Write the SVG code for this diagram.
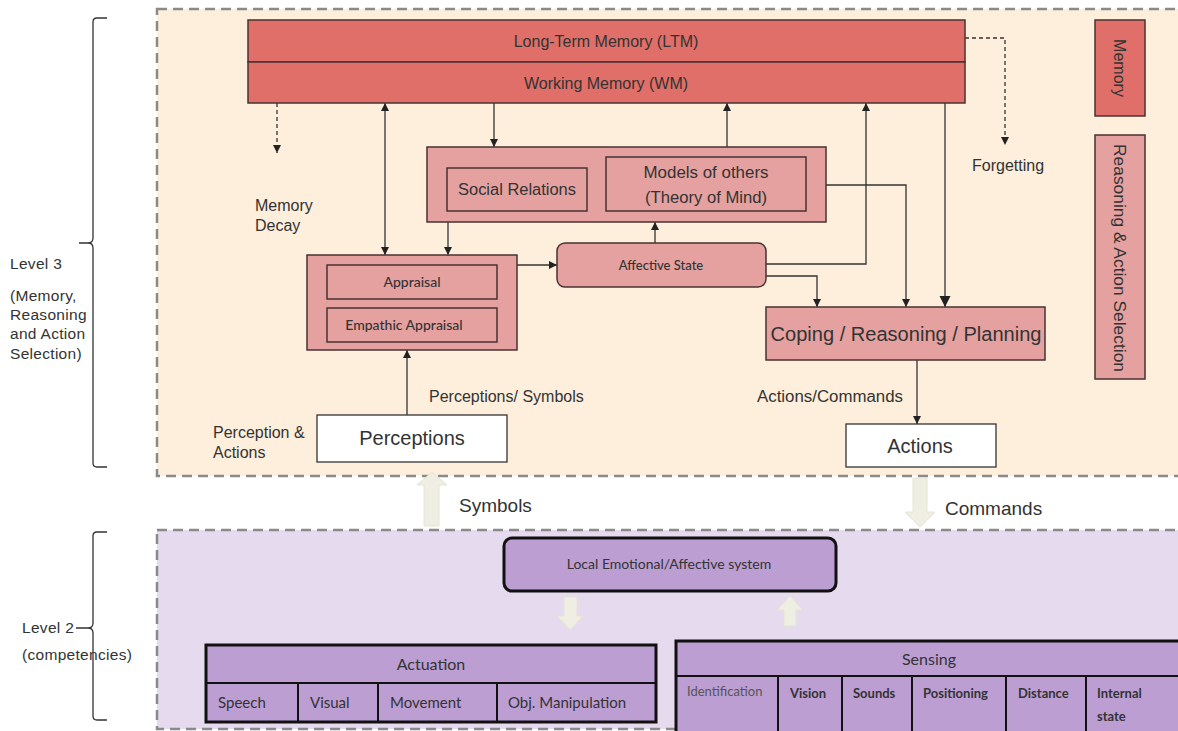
<svg xmlns="http://www.w3.org/2000/svg" width="1178" height="731" viewBox="0 0 1178 731">
  <style>
    .t { font-family: "Liberation Sans", Arial, sans-serif; fill: #333; }
    .c { font-family: Lato, "Liberation Sans", sans-serif; fill: #333; }
    .mem { fill: #df6f68; stroke: #4a3232; stroke-width: 1.5; }
    .rsn { fill: #e4a1a0; stroke: #4a3232; stroke-width: 1.5; }
    .plain { fill: #fff; stroke: #333; stroke-width: 1.3; }
    .comp { fill: #bc9ed3; stroke: #111; stroke-width: 3; }
    .cell { fill: none; stroke: #111; stroke-width: 2; }
    .ln { fill: none; stroke: #333; stroke-width: 1.3; }
    .dash { fill: none; stroke: #333; stroke-width: 1.3; stroke-dasharray: 4,3; }
    .frame { stroke: #8a8a8a; stroke-width: 2.5; stroke-dasharray: 10,6; }
    .hollow { fill: #efeee2; stroke: #e6e4d6; stroke-width: 1; }
    .brace { fill: none; stroke: #333; stroke-width: 1.3; }
    .lv { font-family: "Liberation Sans", Arial, sans-serif; fill: #333; font-size: 15.5px; letter-spacing: 0.3px; }
  </style>
  <defs>
    <marker id="ah" viewBox="0 0 10 10" refX="10" refY="5" markerWidth="8" markerHeight="9" markerUnits="userSpaceOnUse" orient="auto-start-reverse">
      <path d="M0,0 L10,5 L0,10 z" fill="#222"/>
    </marker>
    <marker id="ahBig" viewBox="0 0 10 10" refX="10" refY="5" markerWidth="11" markerHeight="12" markerUnits="userSpaceOnUse" orient="auto">
      <path d="M0,0 L10,5 L0,10 z" fill="#222"/>
    </marker>
  </defs>

  <rect width="1178" height="731" fill="#fff"/>

  <!-- level frames -->
  <g id="level3-frame">
    <rect x="157" y="9" width="1040" height="467" fill="#feeedc" class="frame"/>
  </g>
  <g id="level2-frame">
    <rect x="157" y="530" width="1040" height="199" fill="#e6daee" class="frame"/>
  </g>

  <!-- braces and level labels -->
  <g id="level3-label">
    <path class="brace" d="M107,18 H97 Q93,18 93,22 V238 Q93,243 88,243 H79 M88,243 Q93,243 93,248 V463 Q93,467 97,467 H107"/>
    <text class="lv" x="10" y="269">Level 3</text>
    <text class="lv" x="10" y="301">(Memory,</text>
    <text class="lv" x="10" y="320">Reasoning</text>
    <text class="lv" x="10" y="339">and Action</text>
    <text class="lv" x="10" y="359">Selection)</text>
  </g>
  <g id="level2-label">
    <path class="brace" d="M107,532 H97 Q93,532 93,536 V623 Q93,628 88,628 H76 M88,628 Q93,628 93,633 V716 Q93,720 97,720 H107"/>
    <text class="lv" x="22" y="633">Level 2</text>
    <text class="lv" x="22" y="660">(competencies)</text>
  </g>

  <!-- connectors -->
  <g id="connectors">
    <!-- memory decay / forgetting -->
    <path class="dash" d="M277,103 V153" marker-end="url(#ah)"/>
    <path class="dash" d="M965,38 H1005 V145" marker-end="url(#ah)"/>
    <!-- WM <-> appraisal -->
    <path class="ln" d="M385,103 V255" marker-start="url(#ah)" marker-end="url(#ah)"/>
    <!-- WM -> social -->
    <path class="ln" d="M494,103 V147" marker-end="url(#ah)"/>
    <!-- social -> WM -->
    <path class="ln" d="M727,147 V103" marker-end="url(#ah)"/>
    <!-- social -> appraisal -->
    <path class="ln" d="M448,222 V255" marker-end="url(#ah)"/>
    <!-- appraisal -> affective -->
    <path class="ln" d="M517,265 H557" marker-end="url(#ah)"/>
    <!-- affective -> social -->
    <path class="ln" d="M655,243 V222" marker-end="url(#ah)"/>
    <!-- affective -> WM -->
    <path class="ln" d="M766,264 H866 V103" marker-end="url(#ah)"/>
    <!-- affective -> coping -->
    <path class="ln" d="M766,276 H817 V307" marker-end="url(#ah)"/>
    <!-- social -> coping -->
    <path class="ln" d="M826,185 H906 V307" marker-end="url(#ah)"/>
    <!-- WM -> coping -->
    <path class="ln" d="M945,103 V307" marker-end="url(#ahBig)"/>
    <!-- coping -> actions -->
    <path class="ln" d="M917,360 V424" marker-end="url(#ah)"/>
    <!-- perceptions -> appraisal -->
    <path class="ln" d="M407,415 V350" marker-end="url(#ah)"/>

    <!-- level 2 <-> level 3 -->
    <path class="hollow" d="M424,526 V485 H417 L432,472 L447,485 H439 V526 Z"/>
    <path class="hollow" d="M913,478 V512 H905 L920,527 L935,512 H927 V478 Z"/>
    <path class="hollow" d="M564,597 V616 H557 L570,630 L583,616 H577 V597 Z"/>
    <path class="hollow" d="M784,626 V610 H777 L790,596 L803,610 H796 V626 Z"/>
  </g>

  <g id="connector-labels">
    <text class="t" font-size="16" x="255" y="211">Memory</text>
    <text class="t" font-size="16" x="255" y="231">Decay</text>
    <text class="t" font-size="16" x="972" y="171">Forgetting</text>
    <text class="t" font-size="16" x="429" y="402">Perceptions/ Symbols</text>
    <text class="t" font-size="16" x="757" y="402" textLength="146" lengthAdjust="spacingAndGlyphs">Actions/Commands</text>
    <text class="t" font-size="16" x="213" y="438">Perception &amp;</text>
    <text class="t" font-size="16" x="213" y="458">Actions</text>
    <text class="t" font-size="19" x="459" y="512">Symbols</text>
    <text class="t" font-size="19" x="945" y="515">Commands</text>
  </g>

  <!-- memory block -->
  <g id="ltm">
    <rect class="mem" x="248" y="20" width="717" height="42"/>
    <text class="t" font-size="16" x="606" y="47" text-anchor="middle">Long-Term Memory (LTM)</text>
  </g>
  <g id="wm">
    <rect class="mem" x="248" y="62" width="717" height="41"/>
    <text class="t" font-size="16" x="606" y="89" text-anchor="middle">Working Memory (WM)</text>
  </g>

  <!-- side legends -->
  <g id="legend-memory">
    <rect class="mem" x="1095" y="20" width="50" height="96"/>
    <text class="t" font-size="16" transform="translate(1114,68) rotate(90)" text-anchor="middle">Memory</text>
  </g>
  <g id="legend-reasoning">
    <rect class="rsn" x="1095" y="135" width="50" height="244"/>
    <text class="t" font-size="17" transform="translate(1114,258) rotate(90)" text-anchor="middle" textLength="228" lengthAdjust="spacingAndGlyphs">Reasoning &amp; Action Selection</text>
  </g>

  <!-- social block -->
  <g id="social">
    <rect class="rsn" x="427" y="147" width="399" height="75"/>
    <rect class="rsn" x="447" y="168" width="140" height="43"/>
    <text class="t" font-size="16" x="517" y="195" text-anchor="middle" textLength="118" lengthAdjust="spacingAndGlyphs">Social Relations</text>
    <rect class="rsn" x="606" y="157" width="200" height="54"/>
    <text class="t" font-size="16" x="706" y="178" text-anchor="middle" textLength="125" lengthAdjust="spacingAndGlyphs">Models of others</text>
    <text class="t" font-size="16" x="706" y="203" text-anchor="middle" textLength="122" lengthAdjust="spacingAndGlyphs">(Theory of Mind)</text>
  </g>

  <!-- appraisal block -->
  <g id="appraisal">
    <rect class="rsn" x="307" y="255" width="210" height="95"/>
    <rect class="rsn" x="327" y="265" width="170" height="34"/>
    <text class="c" font-size="14" font-weight="500" x="412" y="287" text-anchor="middle">Appraisal</text>
    <rect class="rsn" x="327" y="308" width="170" height="34"/>
    <text class="c" font-size="14" font-weight="500" x="404" y="330" text-anchor="middle">Empathic Appraisal</text>
  </g>

  <g id="affective-state">
    <rect class="rsn" x="557" y="243" width="209" height="44" rx="8"/>
    <text class="c" font-size="13" font-weight="500" x="661" y="270" text-anchor="middle">Affective State</text>
  </g>

  <g id="coping">
    <rect class="rsn" x="766" y="307" width="279" height="53"/>
    <text class="t" font-size="20" x="906" y="341" text-anchor="middle" textLength="271" lengthAdjust="spacingAndGlyphs">Coping / Reasoning / Planning</text>
  </g>

  <g id="perceptions">
    <rect class="plain" x="317" y="415" width="190" height="47"/>
    <text class="t" font-size="20" x="412" y="445" text-anchor="middle">Perceptions</text>
  </g>

  <g id="actions">
    <rect class="plain" x="846" y="424" width="150" height="43"/>
    <text class="t" font-size="20" x="920" y="453" text-anchor="middle">Actions</text>
  </g>

  <!-- level 2 -->
  <g id="local-affective">
    <rect class="comp" x="504" y="538" width="332" height="53" rx="8"/>
    <text class="c" font-size="14" x="669" y="569" text-anchor="middle">Local Emotional/Affective system</text>
  </g>

  <g id="actuation">
    <rect class="comp" x="206" y="645" width="450" height="77"/>
    <path class="cell" d="M206,683 H656 M298,683 V722 M378,683 V722 M497,683 V722"/>
    <text class="c" font-size="16" x="431" y="670" text-anchor="middle">Actuation</text>
    <text class="c" font-size="15" x="218" y="708">Speech</text>
    <text class="c" font-size="15" x="310" y="708">Visual</text>
    <text class="c" font-size="15" x="390" y="708">Movement</text>
    <text class="c" font-size="15" x="508" y="708">Obj. Manipulation</text>
  </g>

  <g id="sensing">
    <rect class="comp" x="676" y="641" width="505" height="95"/>
    <path class="cell" d="M676,676 H1181 M778,676 V736 M842,676 V736 M912,676 V736 M1006,676 V736 M1086,676 V736"/>
    <text class="c" font-size="16" x="929" y="665" text-anchor="middle">Sensing</text>
    <text class="c" font-size="13" x="687" y="696" style="fill:#555">Identification</text>
    <text class="c" font-size="13" font-weight="bold" x="790" y="698">Vision</text>
    <text class="c" font-size="13" font-weight="bold" x="853" y="698">Sounds</text>
    <text class="c" font-size="13" font-weight="bold" x="923" y="698">Positioning</text>
    <text class="c" font-size="13" font-weight="bold" x="1018" y="698">Distance</text>
    <text class="c" font-size="13" font-weight="bold" x="1097" y="698">Internal</text>
    <text class="c" font-size="13" font-weight="bold" x="1097" y="721">state</text>
  </g>
</svg>
